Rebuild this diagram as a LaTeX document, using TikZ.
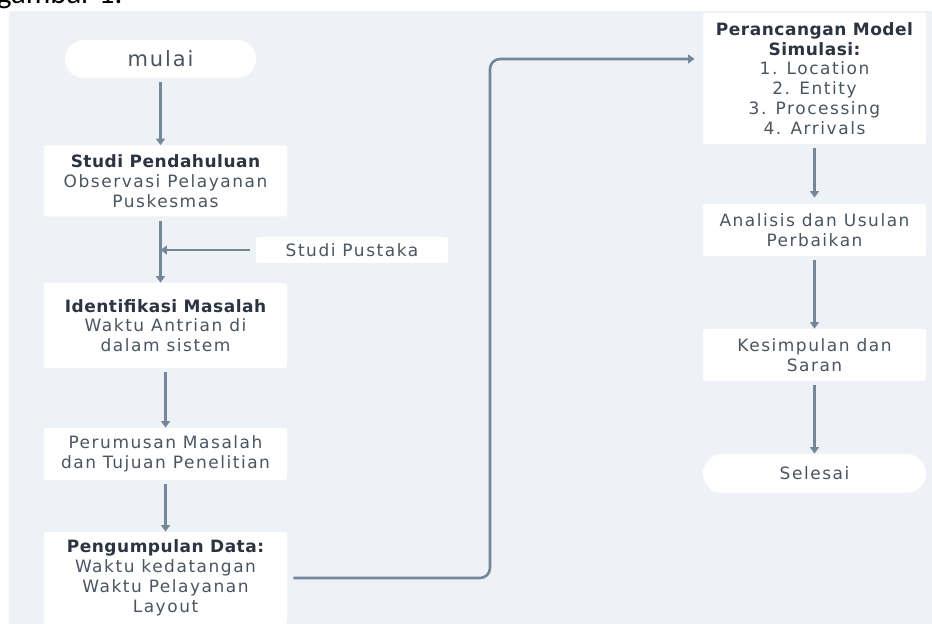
\documentclass[tikz,border=0pt]{standalone}
\usepackage{fontspec}
\setmainfont[LetterSpace=9, BoldFeatures={LetterSpace=3}]{DejaVu Sans}
\newfontfamily\capfont{Carlito}
\usetikzlibrary{positioning, arrows.meta, shapes.misc}

\definecolor{bgpanel}{HTML}{EEF2F6}
\definecolor{linegrey}{HTML}{74869A}
\definecolor{txtgrey}{HTML}{4B5561}
\definecolor{txtdark}{HTML}{2B3440}

\begin{document}
\begin{tikzpicture}[x=0.5pt, y=-0.5pt,
    font=\fontsize{8.5}{9.9}\selectfont,
    box/.style={fill=white, rounded corners=1.2pt, minimum width=121.5pt, align=center, text=txtgrey, inner sep=0pt},
    term/.style={fill=white, rounded rectangle, minimum width=95.5pt, minimum height=19pt, text=txtgrey, inner sep=0pt},
    flow/.style={-{Triangle[length=3.2pt, width=4.4pt]}, draw=linegrey, line width=1.3pt}]
    \useasboundingbox (0,0) rectangle (932,624);
    \fill[bgpanel] (9,11) rectangle (932,624);
    \node[anchor=base west, font=\capfont\fontsize{15.4}{15.4}\selectfont] (caption) at (-10,4) {gambar 1.};

    % left column
    \node[term, font=\fontsize{10.5}{12}\selectfont] (mulai) at (160.5,59) {mulai};
    \node[box, minimum height=35.5pt] (studi) at (165.5,181)
        {\textbf{\color{txtdark}Studi Pendahuluan}\\Observasi Pelayanan\\Puskesmas};
    \node[box, minimum width=96pt, minimum height=13pt] (pustaka) at (352,250) {Studi Pustaka};
    \node[box, minimum height=42.5pt] (ident) at (165.5,325.5)
        {\textbf{\color{txtdark}Identifikasi Masalah}\\Waktu Antrian di\\dalam sistem};
    \node[box, minimum height=26pt] (rumus) at (165.5,454)
        {Perumusan Masalah\\dan Tujuan Penelitian};
    \node[box, minimum height=46pt] (data) at (165.5,578)
        {\textbf{\color{txtdark}Pengumpulan Data:}\\Waktu kedatangan\\Waktu Pelayanan\\Layout};

    % right column
    \node[box, minimum width=111.5pt, minimum height=65.5pt] (model) at (814.5,78.5)
        {\textbf{\color{txtdark}Perancangan Model}\\\textbf{\color{txtdark}Simulasi:}\\1. Location\\2. Entity\\3. Processing\\4. Arrivals};
    \node[box, minimum width=111.5pt, minimum height=26pt] (analisis) at (814.5,230)
        {Analisis dan Usulan\\Perbaikan};
    \node[box, minimum width=111.5pt, minimum height=26pt] (simpul) at (814.5,355)
        {Kesimpulan dan\\Saran};
    \node[term, minimum width=111.5pt, minimum height=19.5pt] (selesai) at (814.5,473.5) {Selesai};

    \coordinate (turn) at (490,59);

    \draw[flow] ([yshift=-2pt]mulai.south) -- (mulai.south |- studi.north);
    \draw[flow] ([yshift=-2pt]studi.south -| mulai.south) -- (mulai.south |- ident.north);
    \draw[flow] ([xshift=-3pt]pustaka.west) -- (pustaka.west -| mulai.south);
    \draw[flow] ([yshift=-2pt]ident.south) -- (rumus.north);
    \draw[flow] ([yshift=-2pt]rumus.south) -- (data.north);
    \draw[flow, rounded corners=5pt, shorten <=3pt, shorten >=4pt] (data.east) -| (turn) -- (turn -| model.west);
    \draw[flow] ([yshift=-2pt]model.south) -- ([yshift=3pt]analisis.north);
    \draw[flow] ([yshift=-2pt]analisis.south) -- (simpul.north);
    \draw[flow] ([yshift=-2pt]simpul.south) -- (selesai.north);
\end{tikzpicture}
\end{document}
